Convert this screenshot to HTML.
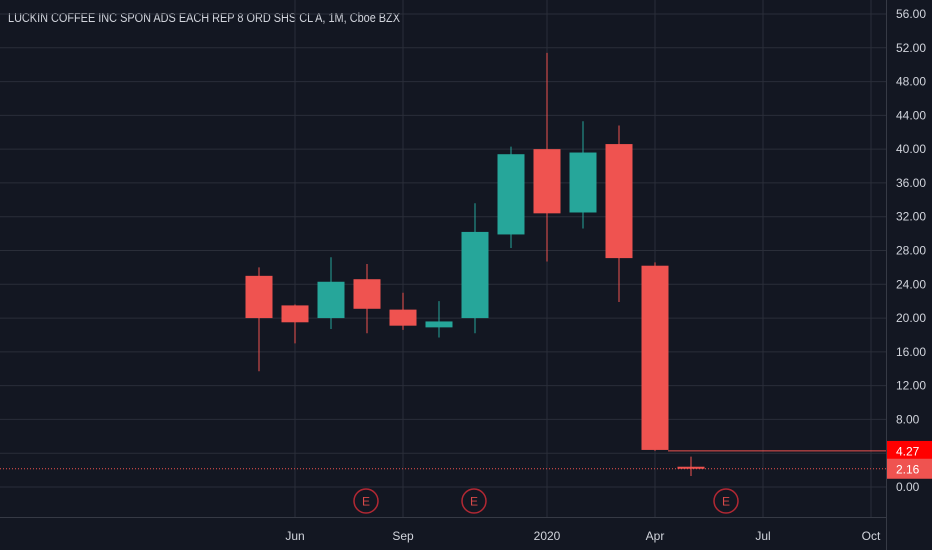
<!DOCTYPE html>
<html><head><meta charset="utf-8"><style>
html,body{margin:0;padding:0;background:#131722;}
svg{display:block;font-family:"Liberation Sans",sans-serif;}
</style></head><body>
<svg id="c" width="932" height="550" xmlns="http://www.w3.org/2000/svg">
<rect width="932" height="550" fill="#131722"/>
<text x="8" y="22" fill="#d1d4dc" font-size="12.5" textLength="392" lengthAdjust="spacingAndGlyphs">LUCKIN COFFEE INC SPON ADS EACH REP 8 ORD SHS CL A, 1M, Cboe BZX</text>
</svg>
<script>
const months = ["May19","Jun19","Jul19","Aug19","Sep19","Oct19","Nov19","Dec19","Jan20","Feb20","Mar20","Apr20","May20"];
const opens  = [25.0,21.5,20.0,24.6,21.0,18.9,20.0,29.9,40.0,32.5,40.6,26.2,2.40];
const highs  = [26.0,21.6,27.2,26.4,23.0,22.0,33.6,40.3,51.4,43.3,42.8,26.6,3.60];
const lows   = [13.7,17.0,18.7,18.2,18.6,17.7,18.2,28.3,26.7,30.6,21.9,4.27,1.30];
const closes = [20.0,19.5,24.3,21.1,19.1,19.6,30.2,39.4,32.4,39.6,27.1,4.39,2.16];
const yTicks = [0,4,8,12,16,20,24,28,32,36,40,44,48,52,56];
const xLabels = ["Jun","Sep","2020","Apr","Jul","Oct"];
const xLabelIdx = [1,4,8,11,14,17];
const earningsIdx = [3,6,13];
const lastClose = 2.16, prevLine = 4.27;

const NS="http://www.w3.org/2000/svg", svg=document.getElementById('c');
const y = v => 487 - v*(473/56);
const x = i => 259 + i*36;
function el(t,a,p){const e=document.createElementNS(NS,t);for(const k in a)e.setAttribute(k,a[k]);(p||svg).appendChild(e);return e;}
const RED="#ef5350", GREEN="#26a69a";
const grid = el('g',{});


yTicks.forEach(v=>{
  const l=el('line',{x1:0,x2:886,y1:y(v),y2:y(v),stroke:"#2a2e39","stroke-width":1},grid);
  
  
  const t=el('text',{x:896,y:y(v)+4,fill:"#d1d4dc","font-size":12});
  t.textContent=v.toFixed(2);
  
  
});
xLabelIdx.forEach((i,k)=>{
  const l=el('line',{x1:x(i),x2:x(i),y1:0,y2:517,stroke:"#2a2e39","stroke-width":1},grid);
  
  
  const t=el('text',{x:x(i),y:540,fill:"#d1d4dc","font-size":12,"text-anchor":"middle"});
  t.textContent=xLabels[k];
  
  
});
const ax1=el('line',{x1:886.5,x2:886.5,y1:0,y2:550,stroke:"#363a45"});


const ax2=el('line',{x1:0,x2:886,y1:517.5,y2:517.5,stroke:"#363a45"});



const pl=el('line',{x1:x(11)+13,x2:886,y1:y(prevLine),y2:y(prevLine),stroke:RED,"stroke-width":1});


const ll=el('line',{x1:0,x2:886,y1:y(lastClose),y2:y(lastClose),stroke:RED,"stroke-width":1,"stroke-dasharray":"1,2"});



months.forEach((m,i)=>{
  const o=opens[i],c=closes[i],up=c>=o,col=up?GREEN:RED;
  const g=el('g',{});
  
  
  el('line',{x1:x(i),x2:x(i),y1:y(highs[i]),y2:y(lows[i]),stroke:col,"stroke-width":1},g);
  const top=y(Math.max(o,c)),bot=y(Math.min(o,c));
  el('rect',{x:x(i)-13.5,y:top,width:27,height:Math.max(bot-top,1.5),fill:col},g);
});

earningsIdx.forEach(i=>{
  const g=el('g',{});
  
  
  const cx=x(i)-1;
  el('circle',{cx:cx,cy:501,r:12,fill:"none",stroke:"#b22833","stroke-width":1.5},g);
  const t=el('text',{x:cx,y:505.5,fill:"#d84a4a","font-size":12,"text-anchor":"middle"},g);
  t.textContent="E";
});

function badge(v,bg,name){
  const g=el('g',{});
  
  
  el('rect',{x:887,y:y(v)-10,width:45,height:20,fill:bg},g);
  const t=el('text',{x:896,y:y(v)+4.5,fill:"#fff","font-size":12},g);
  t.textContent=v.toFixed(2);
}
badge(prevLine,"#ff0000","price-badge-4-27");
badge(lastClose,"#ef5350","price-badge-last");
</script>
</body></html>
